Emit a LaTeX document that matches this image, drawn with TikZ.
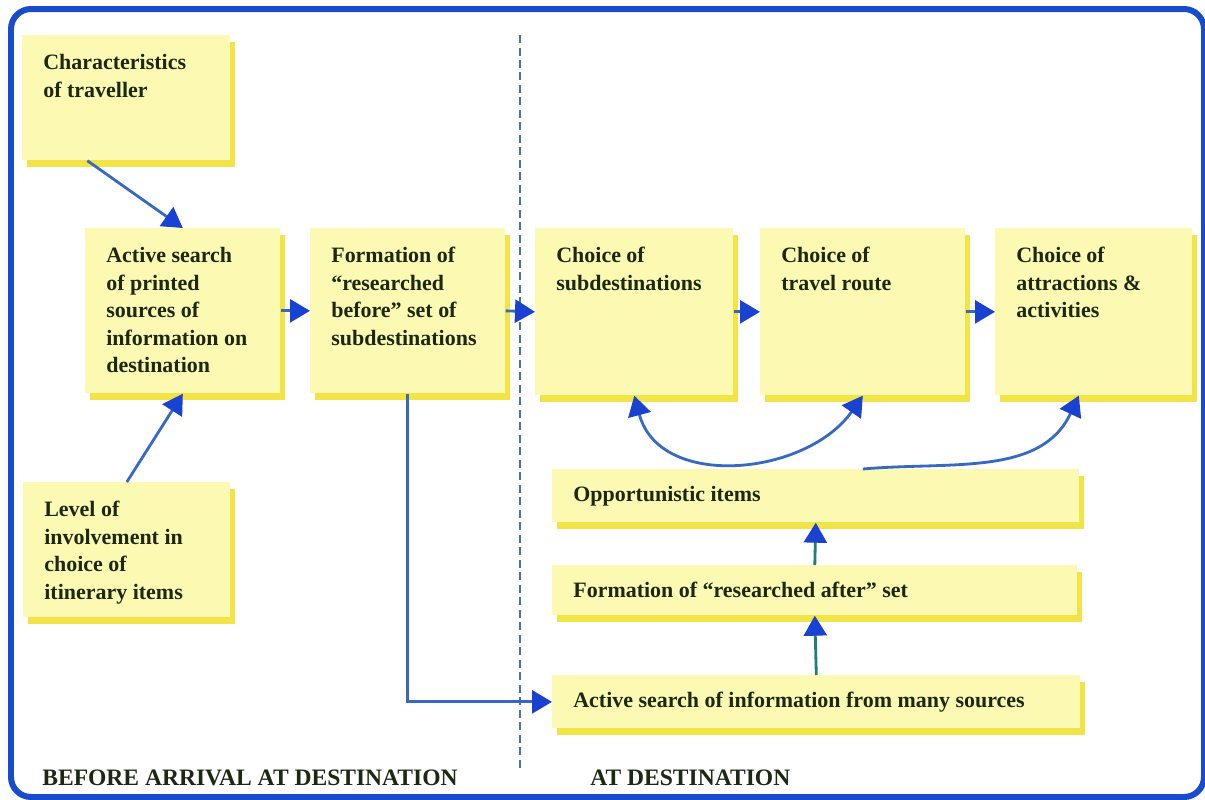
\documentclass[tikz,border=0pt]{standalone}
\usepackage{fontspec}
\setmainfont{Liberation Serif}
\usetikzlibrary{positioning,calc,arrows.meta,shadows}
\usepackage{xcolor}
\definecolor{padfill}{RGB}{251,249,178}
\definecolor{padshade}{RGB}{242,228,70}
\definecolor{framblue}{RGB}{25,75,205}
\definecolor{linkblue}{RGB}{55,105,195}
\definecolor{headblue}{RGB}{25,65,210}
\definecolor{linkteal}{RGB}{35,125,115}
\definecolor{dashblue}{RGB}{70,115,165}
\definecolor{inktext}{RGB}{28,40,18}
\newcommand{\padtext}[3]{\parbox[t][#2][t]{#1}{\raggedright #3}}
\tikzset{
  bluetip/.tip={Triangle[length=0.4cm,width=0.46cm,color=headblue]},
  pad/.style={anchor=north west, fill=padfill, inner xsep=0.42cm, inner ysep=0.38cm,
    text=inktext, font=\bfseries\fontsize{12.5}{15.7}\selectfont,
    drop shadow={shadow xshift=0.1cm, shadow yshift=-0.13cm, fill=padshade, opacity=1}},
  bar/.style={pad, inner ysep=0pt},
  link/.style={draw=linkblue, line width=1.6pt, -bluetip},
  caption/.style={anchor=base west, inner sep=0pt, text=inktext, font=\bfseries\fontsize{13.4}{15}\selectfont},
}

\begin{document}
\begin{tikzpicture}[x=0.02cm, y=-0.02cm]
    \useasboundingbox (0,0) rectangle (1205,799);
    % Outer frame
    \draw[framblue, line width=0.12cm, rounded corners=0.4cm] (11,9) rectangle (1204,797);
    % Split between before and at destination
    \draw[dashblue, line width=1.4pt, dash pattern=on 0.16cm off 0.09cm] (520,35) -- (520,770);
    % Before arrival
    \node[pad] (trav) at (22,35) {\padtext{3.32cm}{1.74cm}{Characteristics\\ of traveller}};
    \node[pad] (srch) at (85,228) {\padtext{3.06cm}{2.54cm}{Active search\\ of printed\\ sources of\\ information on\\ destination}};
    \node[pad] (form) at (310,228) {\padtext{3.06cm}{2.54cm}{Formation of\\ “researched\\ before” set of\\ subdestinations}};
    \node[pad] (invl) at (23,482) {\padtext{3.30cm}{1.94cm}{Level of\\ involvement in\\ choice of\\ itinerary items}};
    % At destination
    \node[pad] (subd) at (535,228) {\padtext{3.12cm}{2.58cm}{Choice of\\ subdestinations}};
    \node[pad] (route) at (760,228) {\padtext{3.26cm}{2.58cm}{Choice of\\ travel route}};
    \node[pad] (attr) at (995,228) {\padtext{3.10cm}{2.58cm}{Choice of\\ attractions \&\\ activities}};
    \node[bar, minimum height=1.06cm] (opp) at (552,469) {\makebox[9.70cm][l]{Opportunistic items}};
    \node[bar, minimum height=1.0cm] (after) at (552,565) {\makebox[9.66cm][l]{Formation of “researched after” set}};
    \node[bar, minimum height=1.06cm] (many) at (552,675) {\makebox[9.72cm][l]{Active search of information from many sources}};
    % Captions
    \node[caption] (pre) at (42,785) {BEFORE ARRIVAL AT DESTINATION};
    \node[caption] (post) at (590,785) {AT DESTINATION};
    % Connectors
    \draw[link] ([xshift=-0.78cm]trav.south) -- (srch.north);
    \draw[link] (invl.north) -- (srch.south);
    \draw[link] (srch.east) -- (form.west);
    \draw[link] (form.east) -- (subd.west);
    \draw[link] (subd.east) -- (route.west);
    \draw[link] (route.east) -- (attr.west);
    \draw[link] (form.south) |- (many.west);
    \draw[link, draw=linkteal] (many.north) -- (after.south);
    \draw[link, draw=linkteal] (after.north) -- (opp.south);
    \draw[link, bluetip-bluetip] (subd.south) to[out=-75, in=-125, looseness=1.1] (route.south);
    \draw[link] (route.south |- opp.north) to[out=5, in=-115] ([xshift=-0.3cm]attr.south);
\end{tikzpicture}
\end{document}
